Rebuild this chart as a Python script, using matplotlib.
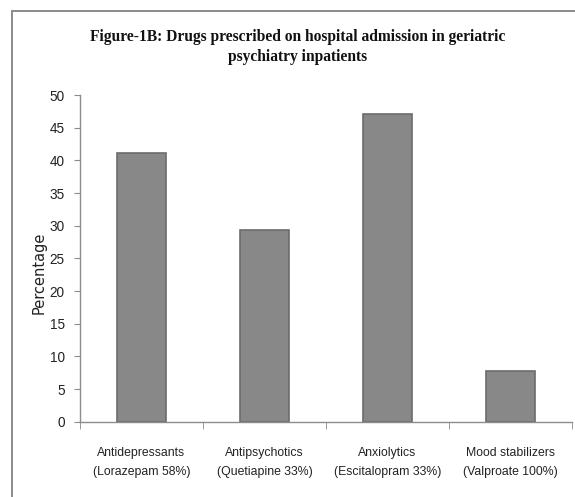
import matplotlib
matplotlib.use("Agg")
import matplotlib.pyplot as plt
from matplotlib.patches import Rectangle

# data
categories = ["Antidepressants\n(Lorazepam 58%)", "Antipsychotics\n(Quetiapine 33%)",
              "Anxiolytics\n(Escitalopram 33%)", "Mood stabilizers\n(Valproate 100%)"]
percentages = [41.2, 29.4, 47.1, 7.8]
yticks = [0, 5, 10, 15, 20, 25, 30, 35, 40, 45, 50]

sans = ["Liberation Sans", "DejaVu Sans"]

fig = plt.figure(figsize=(5.75, 4.97), dpi=100)
fig.patch.set_facecolor("white")

# outer chart frame (cut off at right and bottom like the original)
fig.patches.append(Rectangle((0.021, -0.2), 1.2, 1.178, transform=fig.transFigure,
                             fill=False, edgecolor="#8c8c8c", linewidth=1.4))

ax = fig.add_axes([0.139, 0.1515, 0.856, 0.657])
x = range(len(categories))
ax.bar(x, percentages, width=0.40, color="#888888", edgecolor="#6c6c6c", linewidth=1.2)

ax.set_xlim(-0.5, len(categories) - 0.5)
ax.set_ylim(0, 50)
ax.set_yticks(yticks)

for s in ["top", "right"]:
    ax.spines[s].set_visible(False)
for s in ["left", "bottom"]:
    ax.spines[s].set_color("#8c8c8c")
    ax.spines[s].set_linewidth(1.0)

ax.set_xticks(list(x))
ax.set_xticklabels(categories, family=sans, fontsize=8.8, linespacing=1.8, color="#222222")
ax.set_xticks([i - 0.5 for i in range(len(categories) + 1)], minor=True)
ax.tick_params(axis="x", which="major", length=0, pad=18)
ax.tick_params(axis="x", which="minor", length=5, direction="out", color="#8c8c8c")
ax.tick_params(axis="y", length=4, direction="out", color="#8c8c8c", pad=7)
for lab in ax.get_yticklabels():
    lab.set_family(sans)
    lab.set_fontsize(9.8)
    lab.set_color("#222222")

ax.set_ylabel("Percentage", fontsize=10.5, color="#222222")
ax.yaxis.set_label_coords(-0.068, 0.455)

fig.text(0.517, 0.905, "Figure-1B: Drugs prescribed on hospital admission in geriatric\npsychiatry inpatients",
         ha="center", va="center", family="Liberation Serif", fontweight="bold",
         fontsize=11.2, linespacing=1.3, color="#111111")

fig.savefig("out.png", dpi=100)
